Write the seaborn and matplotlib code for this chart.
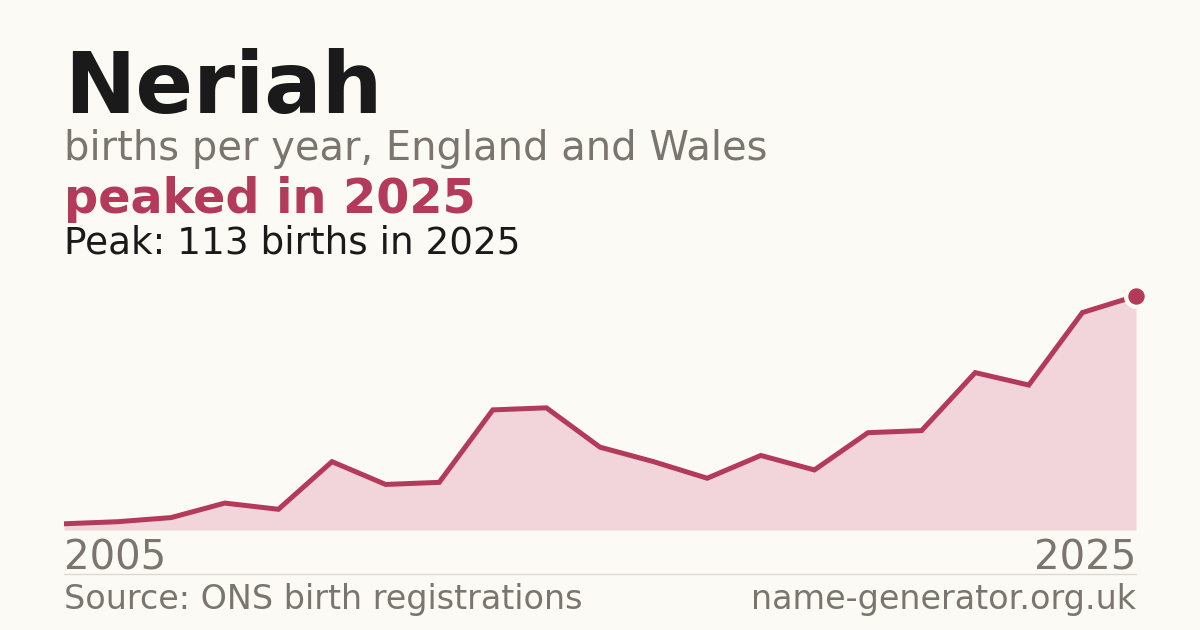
import numpy as np
import pandas as pd
import matplotlib
matplotlib.use("Agg")
import matplotlib.pyplot as plt
import matplotlib.transforms as mtransforms
import seaborn as sns

# ── Data ──
years = list(range(2005, 2026))
births = [3, 4, 6, 13, 10, 33, 22, 23, 58, 59, 40, 33, 25, 36, 29, 47, 48, 76, 70, 105, 113]
end_labels = ["2005", "2025"]

name = "Neriah"
subtitle = "births per year, England and Wales"
headline = "peaked in 2025"
peak_note = "Peak: 113 births in 2025"
source = "Source: ONS birth registrations"
site = "name-generator.org.uk"

df = pd.DataFrame({"year": years, "births": births})

# ── Colours ──
BG = "#fbfaf5"
RED = "#b33a5a"
FILL = "#f2d5db"
GREY = "#7a756e"
DARK = "#1a1a1a"
RULE = "#dcd9d3"

sns.set_theme(style="white")
plt.rcParams["font.family"] = ["DejaVu Sans"]

fig = plt.figure(figsize=(12, 6.3), dpi=100, facecolor=BG)
W, H = 1200, 630

# plot area: x 64..1136 px, y 296..530 px (from top)
ax = fig.add_axes([64 / W, (H - 530) / H, 1072 / W, 234 / H])
ax.set_facecolor(BG)

ax.fill_between(df["year"], df["births"], 0, color=FILL, lw=0, zorder=1)
sns.lineplot(data=df, x="year", y="births", ax=ax, color=RED, lw=3.6,
             solid_joinstyle="miter", zorder=2)

peak_i = int(np.argmax(births))
ax.plot(years[peak_i], births[peak_i], "o", ms=17, color=BG, mec=BG, zorder=3, clip_on=False)
ax.plot(years[peak_i], births[peak_i], "o", ms=10.8, color=RED, mec=RED, zorder=4, clip_on=False)

ax.set_xlim(years[0], years[-1])
ax.set_ylim(0, max(births))
ax.axis("off")

# end year labels under the axis
trans = mtransforms.blended_transform_factory(ax.transData, fig.transFigure)
ax.text(years[0], (H - 570) / H, end_labels[0], transform=trans, ha="left", va="baseline",
        fontsize=29, color=GREY, clip_on=False)
ax.text(years[-1], (H - 570) / H, end_labels[1], transform=trans, ha="right", va="baseline",
        fontsize=29, color=GREY, clip_on=False)

# ── Header texts ──
fig.text(64 / W, (H - 113) / H, name, fontsize=61.3, fontweight="bold", color=DARK, va="baseline")
fig.text(64 / W, (H - 160) / H, subtitle, fontsize=28.8, color=GREY, va="baseline")
fig.text(64 / W, (H - 213) / H, headline, fontsize=34.4, fontweight="bold", color=RED, va="baseline")
fig.text(64 / W, (H - 254) / H, peak_note, fontsize=26.9, color=DARK, va="baseline")

# ── Footer ──
fig.add_artist(plt.Line2D([64 / W, 1136 / W], [(H - 574) / H] * 2, color=RULE, lw=1))
fig.text(64 / W, (H - 609) / H, source, fontsize=24, color=GREY, va="baseline")
fig.text(1136 / W, (H - 609) / H, site, fontsize=24, color=GREY, va="baseline", ha="right")

fig.savefig("out.png", dpi=100, facecolor=BG)
